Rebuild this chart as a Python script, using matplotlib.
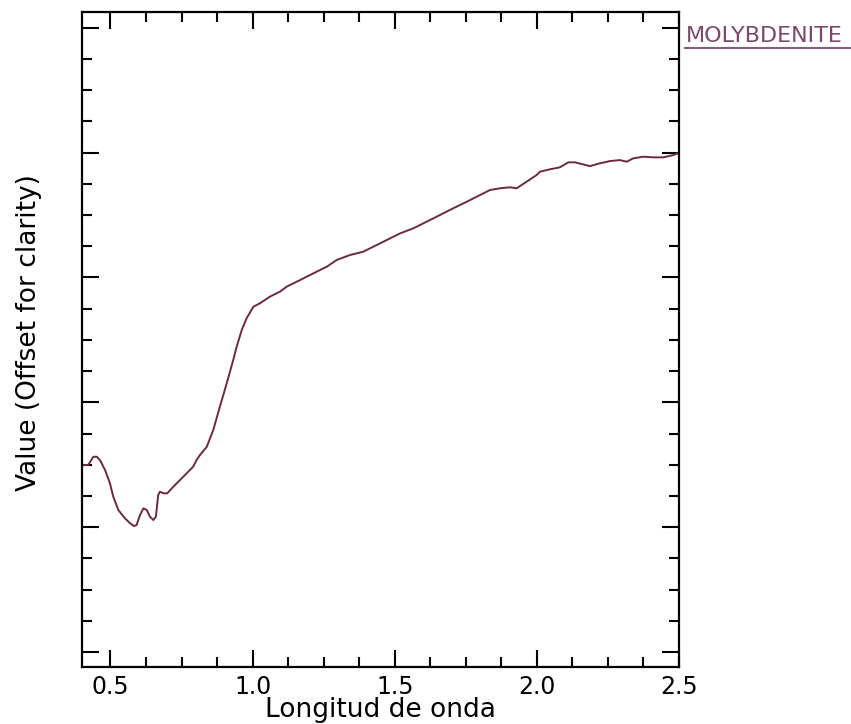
import matplotlib
matplotlib.use("Agg")
import matplotlib.pyplot as plt
from matplotlib.ticker import MultipleLocator, NullFormatter
from matplotlib.lines import Line2D

# Data (wavelength in µm, value with arbitrary offset)
wavelength = [0.400, 0.422, 0.440, 0.452, 0.463, 0.481, 0.498, 0.510, 0.528, 0.551,
              0.569, 0.583, 0.592, 0.604, 0.616, 0.628, 0.639, 0.651, 0.660, 0.668,
              0.674, 0.686, 0.700, 0.716, 0.733, 0.745, 0.791, 0.803, 0.815, 0.839,
              0.862, 0.885, 0.909, 0.932, 0.944, 0.962, 0.979, 1.003, 1.026, 1.061,
              1.096, 1.120, 1.167, 1.214, 1.261, 1.296, 1.343, 1.389, 1.413, 1.460,
              1.519, 1.565, 1.612, 1.659, 1.706, 1.753, 1.800, 1.835, 1.870, 1.905,
              1.929, 1.964, 1.999, 2.011, 2.046, 2.081, 2.111, 2.134, 2.158, 2.187,
              2.222, 2.257, 2.292, 2.316, 2.339, 2.374, 2.410, 2.445, 2.480, 2.500]
value = [0.1498, 0.1498, 0.1564, 0.1564, 0.1538, 0.1458, 0.1354, 0.1244, 0.1137, 0.1071,
         0.1031, 0.1009, 0.1017, 0.1097, 0.1151, 0.1137, 0.1084, 0.1057, 0.1084, 0.1257,
         0.1284, 0.1271, 0.1271, 0.1311, 0.1351, 0.1378, 0.1484, 0.1538, 0.1578, 0.1644,
         0.1780, 0.1965, 0.2152, 0.2339, 0.2445, 0.2579, 0.2673, 0.2766, 0.2793, 0.2846,
         0.2886, 0.2926, 0.2979, 0.3033, 0.3086, 0.3140, 0.3180, 0.3206, 0.3233, 0.3286,
         0.3353, 0.3393, 0.3446, 0.3500, 0.3554, 0.3606, 0.3660, 0.3700, 0.3714, 0.3722,
         0.3714, 0.3767, 0.3820, 0.3847, 0.3866, 0.3882, 0.3922, 0.3922, 0.3908, 0.3892,
         0.3914, 0.3932, 0.3940, 0.3927, 0.3954, 0.3967, 0.3962, 0.3962, 0.3980, 0.3999]
series_name = "MOLYBDENITE"
xtick_values = [0.5, 1.0, 1.5, 2.0, 2.5]
xtick_labels = ["0.5", "1.0", "1.5", "2.0", "2.5"]

fig = plt.figure(figsize=(8.51, 7.24), dpi=100)
ax = fig.add_axes([82/851, 57/724, (679-82)/851, (667-12)/724])

ax.plot(wavelength, value, color="#6a2a40", lw=1.4)

ax.set_xlim(0.4, 2.5)
ax.set_ylim(-0.012, 0.5126)
ax.set_xticks(xtick_values)
ax.set_xticklabels(xtick_labels)
ax.xaxis.set_minor_locator(MultipleLocator(0.125))
ax.yaxis.set_major_locator(MultipleLocator(0.1))
ax.yaxis.set_minor_locator(MultipleLocator(0.025))
ax.yaxis.set_major_formatter(NullFormatter())

ax.tick_params(which="both", direction="in", top=True, right=True, width=1.5, color="black")
ax.tick_params(which="major", length=12)
ax.tick_params(which="minor", length=7)
ax.tick_params(axis="x", labelsize=17, pad=6)
for s in ax.spines.values():
    s.set_linewidth(1.6)

ax.set_xlabel("Longitud de onda", fontsize=19)
ax.xaxis.set_label_coords(0.5, -0.046)
ax.set_ylabel("Value (Offset for clarity)", fontsize=19)
ax.yaxis.set_label_coords(-0.067, 0.511)

fig.text(686/851, 1 - 42/724, series_name, fontsize=16, color="#7a4a6e",
         ha="left", va="baseline")
fig.add_artist(Line2D([685/851, 1.0], [1 - 48/724, 1 - 48/724],
                      transform=fig.transFigure, color="#8a5a7a", lw=1.5))

fig.savefig("out.png", dpi=100)
